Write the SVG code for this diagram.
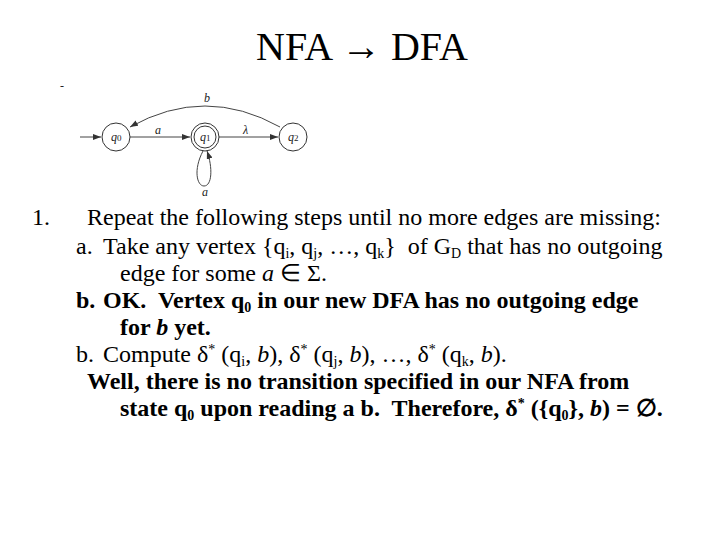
<svg xmlns="http://www.w3.org/2000/svg" width="720" height="540" viewBox="0 0 720 540">
<style>
.t{font-family:"Liberation Serif",serif;font-size:24px;fill:#000;white-space:pre}
.n{fill:none;stroke:#333;stroke-width:1}
.l{font-family:"Liberation Serif",serif;font-style:italic;font-size:12px;fill:#222}
.e{fill:none;stroke:#444;stroke-width:1}
</style>
<defs><marker id="ah" markerWidth="8" markerHeight="6" refX="8" refY="3" orient="auto" markerUnits="userSpaceOnUse"><path d="M0,0L8,3L0,6z" fill="#333"/></marker></defs>
<rect width="720" height="540" fill="#fff"/>
<text x="362" y="60" text-anchor="middle" font-family="Liberation Serif,serif" font-size="40">NFA → DFA</text>
<text x="60" y="90" class="l">-</text>
<g id="connectors">
<line x1="80" y1="137" x2="101" y2="137" class="e" marker-end="url(#ah)"/>
<line x1="130" y1="137" x2="190" y2="137" class="e" marker-end="url(#ah)"/>
<line x1="219" y1="137" x2="278" y2="137" class="e" marker-end="url(#ah)"/>
<path d="M280,127 Q205,85 130,127" class="e" marker-end="url(#ah)"/>
<path d="M203,151 C193,170 197,186 204,186 C212,186 213,168 207,151" class="e" marker-end="url(#ah)"/>
<text x="155" y="134" class="l">a</text>
<text x="243" y="134" class="l">λ</text>
<text x="204" y="102" class="l">b</text>
<text x="202" y="196" class="l" font-size="11">a</text>
</g>
<g id="q0"><circle cx="116" cy="137" r="14" class="n"/><text x="111" y="141" class="l">q<tspan font-size="9" font-style="normal">0</tspan></text></g>
<g id="q1"><circle cx="205" cy="137" r="14" class="n"/><circle cx="205" cy="137" r="11" class="n"/><text x="200" y="141" class="l">q<tspan font-size="9" font-style="normal">1</tspan></text></g>
<g id="q2"><circle cx="293" cy="137" r="14" class="n"/><text x="288" y="141" class="l">q<tspan font-size="9" font-style="normal">2</tspan></text></g>
<text class="t" x="32" y="225">1.</text>
<text class="t" x="87" y="225">Repeat the following steps until no more edges are missing:</text>
<text class="t" x="76" y="254">a.</text>
<text class="t" x="103" y="254">Take any vertex {q<tspan font-size="14" dy="4">i</tspan><tspan dy="-4">, q</tspan><tspan font-size="14" dy="4">j</tspan><tspan dy="-4">, …, q</tspan><tspan font-size="14" dy="4">k</tspan><tspan dy="-4">}  of G</tspan><tspan font-size="14" dy="4">D</tspan><tspan dy="-4"> that has no outgoing</tspan></text>
<text class="t" x="120" y="281">edge for some <tspan font-style="italic">a</tspan> ∈ Σ.</text>
<text class="t" x="76" y="308" font-weight="bold">b.</text>
<text class="t" x="103" y="308" font-weight="bold">OK.  Vertex q<tspan font-size="14" dy="4">0</tspan><tspan dy="-4"> in our new DFA has no outgoing edge</tspan></text>
<text class="t" x="120" y="335" font-weight="bold">for <tspan font-style="italic">b</tspan> yet.</text>
<text class="t" x="76" y="362">b.</text>
<text class="t" x="103" y="362">Compute δ<tspan font-size="14" dy="-8">*</tspan><tspan dy="8"> (q</tspan><tspan font-size="14" dy="4">i</tspan><tspan dy="-4">, </tspan><tspan font-style="italic">b</tspan>), δ<tspan font-size="14" dy="-8">*</tspan><tspan dy="8"> (q</tspan><tspan font-size="14" dy="4">j</tspan><tspan dy="-4">, </tspan><tspan font-style="italic">b</tspan>), …, δ<tspan font-size="14" dy="-8">*</tspan><tspan dy="8"> (q</tspan><tspan font-size="14" dy="4">k</tspan><tspan dy="-4">, </tspan><tspan font-style="italic">b</tspan>).</text>
<text class="t" x="87" y="389" font-weight="bold">Well, there is no transition specified in our NFA from</text>
<text class="t" x="120" y="416" font-weight="bold">state q<tspan font-size="14" dy="4">0</tspan><tspan dy="-4"> upon reading a b.  Therefore, δ</tspan><tspan font-size="14" dy="-8">*</tspan><tspan dy="8"> ({q</tspan><tspan font-size="14" dy="4">0</tspan><tspan dy="-4">}, </tspan><tspan font-style="italic">b</tspan>) = ∅.</text>
</svg>
